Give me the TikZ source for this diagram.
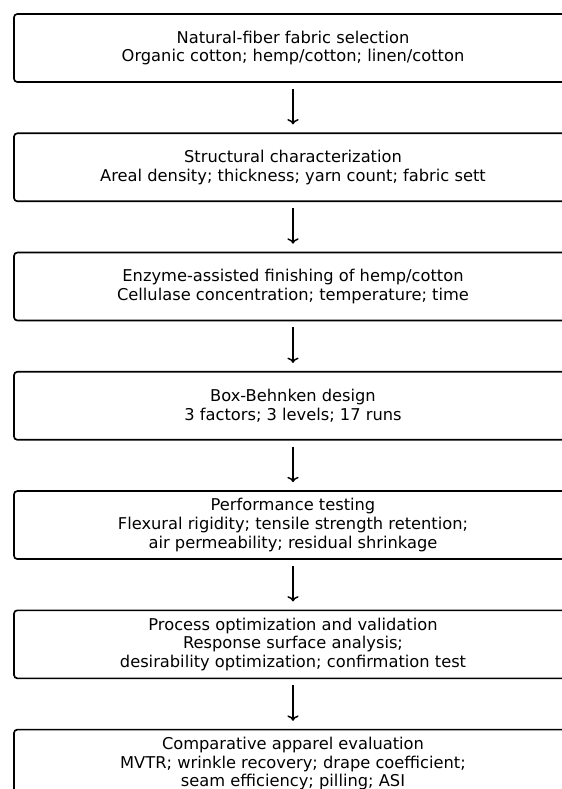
\documentclass[tikz,border=0pt]{standalone}
\usepackage{fontspec}
\setmainfont{DejaVu Sans}
\usepackage{tikz}
\usetikzlibrary{positioning,arrows.meta}

\tikzset{
    stagebox/.style={draw, line width=1.25pt, rounded corners=2.5pt, fill=white,
        minimum width=418.5pt, minimum height=51pt, inner sep=2pt,
        align=center, font=\fontsize{12.2}{14.1}\selectfont},
    flowarrow/.style={->, line width=1.1pt, shorten <=4.5pt, shorten >=6pt}
}

\begin{document}
\begin{tikzpicture}[x=0.75pt, y=-0.75pt, node distance=37.2pt]
    \useasboundingbox (0,0) rectangle (561,789);

    % Stages
    \node[stagebox] (fabric) at (293,48) {Natural-fiber fabric selection\\Organic cotton; hemp/cotton; linen/cotton};
    \node[stagebox, below=of fabric] (struct) {Structural characterization\\Areal density; thickness; yarn count; fabric sett};
    \node[stagebox, below=of struct] (enzyme) {Enzyme-assisted finishing of hemp/cotton\\Cellulase concentration; temperature; time};
    \node[stagebox, below=of enzyme] (bbd) {Box-Behnken design\\3 factors; 3 levels; 17 runs};
    \node[stagebox, below=of bbd] (perf) {Performance testing\\Flexural rigidity; tensile strength retention;\\air permeability; residual shrinkage};
    \node[stagebox, below=of perf] (optim) {Process optimization and validation\\Response surface analysis;\\desirability optimization; confirmation test};
    \node[stagebox, below=of optim] (apparel) {Comparative apparel evaluation\\MVTR; wrinkle recovery; drape coefficient;\\seam efficiency; pilling; ASI};

    % Arrows
    \draw[flowarrow] (fabric) -- (struct);
    \draw[flowarrow] (struct) -- (enzyme);
    \draw[flowarrow] (enzyme) -- (bbd);
    \draw[flowarrow] (bbd) -- (perf);
    \draw[flowarrow] (perf) -- (optim);
    \draw[flowarrow] (optim) -- (apparel);
\end{tikzpicture}
\end{document}
